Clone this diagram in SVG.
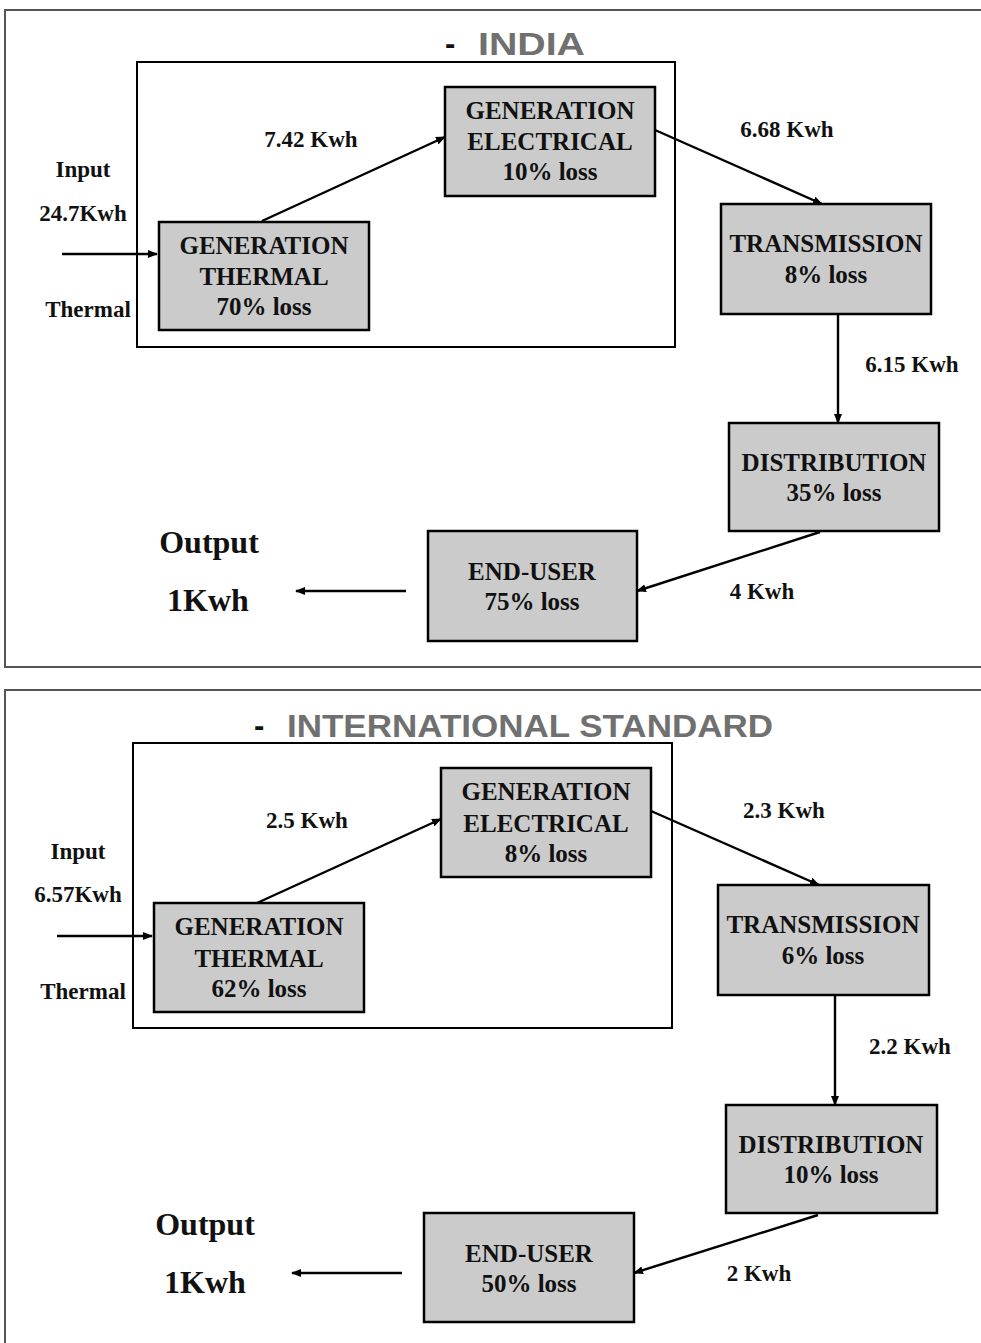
<svg xmlns="http://www.w3.org/2000/svg" width="981" height="1343" viewBox="0 0 981 1343">
<style>
.panel{fill:none;stroke:#555;stroke-width:2}
.group{fill:none;stroke:#000;stroke-width:2}
.box{fill:#cbcbcb;stroke:#000;stroke-width:2.5}
.bt{font-family:"Liberation Serif","Times New Roman",serif;font-weight:bold;font-size:25px;fill:#111;text-anchor:middle}
.lb{font-family:"Liberation Serif","Times New Roman",serif;font-weight:bold;font-size:23px;fill:#111;text-anchor:middle}
.big{font-family:"Liberation Serif","Times New Roman",serif;font-weight:bold;font-size:32px;fill:#111;text-anchor:middle}
.title{font-family:"Liberation Sans",Arial,sans-serif;font-weight:bold;font-size:32px;fill:#707070}
.dash{font-family:"Liberation Sans",Arial,sans-serif;font-weight:bold;font-size:31px;fill:#111}
.conn line{stroke:#000;stroke-width:2.4;marker-end:url(#ah)}
</style>
<defs>
<marker id="ah" markerWidth="10" markerHeight="8" refX="9" refY="4" orient="auto" markerUnits="userSpaceOnUse">
<path d="M0,0 L10,4 L0,8 Z" fill="#000"/>
</marker>
</defs>
<rect width="981" height="1343" fill="#fff"/>

<!-- Panel 1: India -->
<path class="panel" d="M982,10 H5 V667 H982"/>
<text class="dash" x="445" y="54">-</text>
<text class="title" x="478" y="55" textLength="107" lengthAdjust="spacingAndGlyphs">INDIA</text>
<rect class="group" x="137" y="62" width="538" height="285"/>

<g id="india-gen-thermal">
<rect class="box" x="159" y="222" width="210" height="108"/>
<text class="bt" x="264" y="254">GENERATION</text>
<text class="bt" x="264" y="285">THERMAL</text>
<text class="bt" x="264" y="315">70% loss</text>
</g>
<g id="india-gen-electrical">
<rect class="box" x="445" y="87" width="210" height="109"/>
<text class="bt" x="550" y="119">GENERATION</text>
<text class="bt" x="550" y="150">ELECTRICAL</text>
<text class="bt" x="550" y="180">10% loss</text>
</g>
<g id="india-transmission">
<rect class="box" x="721" y="204" width="210" height="110"/>
<text class="bt" x="826" y="252">TRANSMISSION</text>
<text class="bt" x="826" y="283">8% loss</text>
</g>
<g id="india-distribution">
<rect class="box" x="729" y="423" width="210" height="108"/>
<text class="bt" x="834" y="471">DISTRIBUTION</text>
<text class="bt" x="834" y="501">35% loss</text>
</g>
<g id="india-enduser">
<rect class="box" x="428" y="531" width="209" height="110"/>
<text class="bt" x="532" y="580">END-USER</text>
<text class="bt" x="532" y="610">75% loss</text>
</g>
<g id="india-labels">
<text class="lb" x="83" y="177">Input</text>
<text class="lb" x="83" y="221">24.7Kwh</text>
<text class="lb" x="88" y="317">Thermal</text>
<text class="lb" x="311" y="147">7.42 Kwh</text>
<text class="lb" x="787" y="137">6.68 Kwh</text>
<text class="lb" x="912" y="372">6.15 Kwh</text>
<text class="lb" x="762" y="599">4 Kwh</text>
<text class="big" x="209" y="553">Output</text>
<text class="big" x="208" y="611">1Kwh</text>
</g>
<g id="india-connectors" class="conn">
<line x1="62" y1="254" x2="157" y2="254"/>
<line x1="262" y1="221" x2="445" y2="137"/>
<line x1="655" y1="130" x2="822" y2="204"/>
<line x1="838" y1="314" x2="838" y2="423"/>
<line x1="820" y1="532" x2="637" y2="591"/>
<line x1="406" y1="591" x2="296" y2="591"/>
</g>

<!-- Panel 2: International standard -->
<path class="panel" d="M982,690 H5 V1344"/>
<text class="dash" x="254" y="736">-</text>
<text class="title" x="287" y="737" textLength="486" lengthAdjust="spacingAndGlyphs">INTERNATIONAL STANDARD</text>
<rect class="group" x="133" y="743" width="539" height="285"/>

<g id="intl-gen-thermal">
<rect class="box" x="154" y="903" width="210" height="109"/>
<text class="bt" x="259" y="935">GENERATION</text>
<text class="bt" x="259" y="967">THERMAL</text>
<text class="bt" x="259" y="997">62% loss</text>
</g>
<g id="intl-gen-electrical">
<rect class="box" x="441" y="768" width="210" height="109"/>
<text class="bt" x="546" y="800">GENERATION</text>
<text class="bt" x="546" y="832">ELECTRICAL</text>
<text class="bt" x="546" y="862">8% loss</text>
</g>
<g id="intl-transmission">
<rect class="box" x="718" y="885" width="211" height="110"/>
<text class="bt" x="823" y="933">TRANSMISSION</text>
<text class="bt" x="823" y="964">6% loss</text>
</g>
<g id="intl-distribution">
<rect class="box" x="726" y="1105" width="211" height="108"/>
<text class="bt" x="831" y="1153">DISTRIBUTION</text>
<text class="bt" x="831" y="1183">10% loss</text>
</g>
<g id="intl-enduser">
<rect class="box" x="424" y="1213" width="210" height="109"/>
<text class="bt" x="529" y="1262">END-USER</text>
<text class="bt" x="529" y="1292">50% loss</text>
</g>
<g id="intl-labels">
<text class="lb" x="78" y="859">Input</text>
<text class="lb" x="78" y="902">6.57Kwh</text>
<text class="lb" x="83" y="999">Thermal</text>
<text class="lb" x="307" y="828">2.5 Kwh</text>
<text class="lb" x="784" y="818">2.3 Kwh</text>
<text class="lb" x="910" y="1054">2.2 Kwh</text>
<text class="lb" x="759" y="1281">2 Kwh</text>
<text class="big" x="205" y="1235">Output</text>
<text class="big" x="205" y="1293">1Kwh</text>
</g>
<g id="intl-connectors" class="conn">
<line x1="57" y1="936" x2="152" y2="936"/>
<line x1="257" y1="903" x2="441" y2="819"/>
<line x1="651" y1="811" x2="819" y2="885"/>
<line x1="835" y1="995" x2="835" y2="1105"/>
<line x1="818" y1="1215" x2="634" y2="1273"/>
<line x1="402" y1="1273" x2="292" y2="1273"/>
</g>
</svg>
